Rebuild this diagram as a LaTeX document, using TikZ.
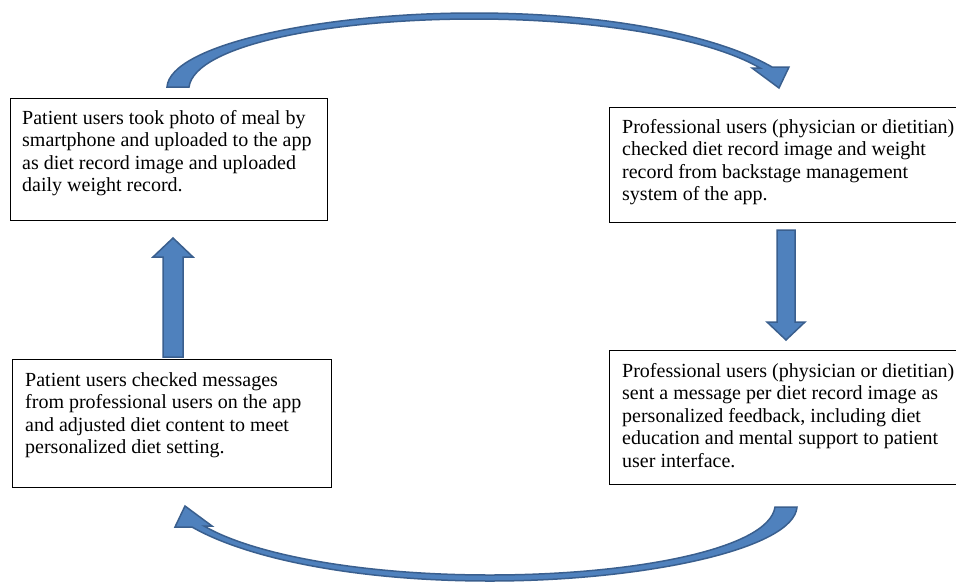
\documentclass[tikz,border=0pt]{standalone}
\usepackage{fontspec}
\setmainfont{Liberation Serif}
\definecolor{arrfill}{HTML}{4F81BD}
\definecolor{arrline}{HTML}{3A5F8E}
\begin{document}
\begin{tikzpicture}[x=1pt,y=-1pt,
  box/.style={draw=black, line width=1.2pt, fill=white, rectangle, inner sep=0pt, anchor=north west},
  txt/.style={inner sep=0pt, anchor=base west, font=\fontsize{20}{22.6}\selectfont},
  blockarrow/.style={fill=arrfill, draw=arrline, line width=1.5pt, line join=miter}]
\useasboundingbox (0,0) rectangle (956,582);
\fill[white] (0,0) rectangle (956,582);

% boxes
\node[box, minimum width=317pt, minimum height=122pt] (b1) at (10,98) {};
\node[box, minimum width=353pt, minimum height=115pt] (b2) at (609,107) {};
\node[box, minimum width=353pt, minimum height=134pt] (b3) at (609,350) {};
\node[box, minimum width=319pt, minimum height=128pt] (b4) at (12,359) {};

% texts
\node[txt] (t1) at (22,124) {\parbox[t]{320pt}{\raggedright Patient users took photo of meal by\\ smartphone and uploaded to the app\\ as diet record image and uploaded\\ daily weight record.}};
\node[txt] (t2) at (622,133) {\parbox[t]{340pt}{\raggedright Professional users (physician or dietitian)\\ checked diet record image and weight\\ record from backstage management\\ system of the app.}};
\node[txt] (t3) at (622,377) {\parbox[t]{340pt}{\raggedright Professional users (physician or dietitian)\\ sent a message per diet record image as\\ personalized feedback, including diet\\ education and mental support to patient\\ user interface.}};
\node[txt] (t4) at (25,386) {\parbox[t]{320pt}{\raggedright Patient users checked messages\\ from professional users on the app\\ and adjusted diet content to meet\\ personalized diet setting.}};

% straight block arrows
\draw[blockarrow] (163,357) -- (163,257) -- (153,257) -- (173,238) -- (193,257) -- (183,257) -- (183,357) -- cycle;
\draw[blockarrow] (777,230) -- (777,322) -- (767,322) -- (786,340) -- (805,322) -- (795,322) -- (795,230) -- cycle;

% curved block arrows
\def\curvedarrow{(167,87) .. controls (170,45) and (320,13) .. (474,13)
  .. controls (610,13) and (718,36) .. (772,67)
  -- (789,67) -- (779,88) -- (752,68) -- (760,68)
  .. controls (712,40) and (605,19) .. (474,19)
  .. controls (330,19) and (195,45) .. (189,87) -- cycle}
\draw[blockarrow] \curvedarrow;
\draw[blockarrow, rotate around={180:(482,297)}] \curvedarrow;
\end{tikzpicture}
\end{document}
